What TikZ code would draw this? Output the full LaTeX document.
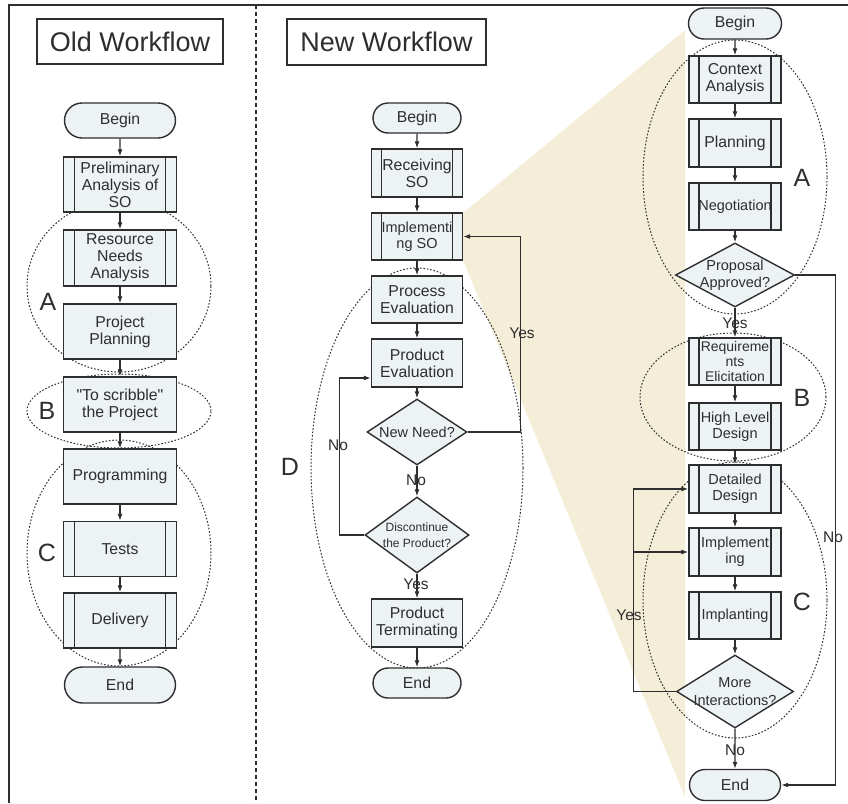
\documentclass[tikz,border=0pt]{standalone}
\usepackage{fontspec}
\setmainfont{Liberation Sans}
\usetikzlibrary{shapes.geometric,shapes.misc,arrows.meta}
\definecolor{boxfill}{HTML}{EDF2F5}
\definecolor{wedge}{HTML}{F4EDD7}
\definecolor{ink}{HTML}{2E2E2E}

\begin{document}
\begin{tikzpicture}[x=1pt,y=-1pt,
  base/.style={draw=ink, line width=1.4pt, fill=boxfill, text=ink, align=center,
    inner sep=1pt, font=\fontsize{15.8}{17}\selectfont},
  term/.style={base, rounded rectangle},
  proc/.style={base, rectangle},
  sub/.style={base, rectangle,
    path picture={\draw[draw=ink, line width=1.4pt]
      ([xshift=#1]path picture bounding box.north west) -- ([xshift=#1]path picture bounding box.south west)
      ([xshift=-#1]path picture bounding box.north east) -- ([xshift=-#1]path picture bounding box.south east);}},
  sub/.default=10pt,
  small/.style={font=\fontsize{14.5}{16}\selectfont},
  dia/.style={base, diamond, inner sep=0pt},
  dlbl/.style={align=center, text=ink, inner sep=0pt, font=\fontsize{14.5}{17.5}\selectfont},
  title/.style={draw=ink, line width=1.3pt, fill=white, text=ink, font=\fontsize{27}{27}\selectfont},
  lbl/.style={text=ink, inner sep=0pt, font=\fontsize{15.5}{17}\selectfont},
  letter/.style={text=ink, inner sep=0pt, font=\fontsize{25}{25}\selectfont},
  arr/.style={draw=ink, line width=1.2pt, -{Latex[length=7pt,width=5pt]}},
  zone/.style={draw=ink, line width=1pt, dash pattern=on 1.6pt off 1.8pt},
]
\useasboundingbox (0,0) rectangle (848,803);

% zoom wedge behind the detailed workflow
\fill[wedge] (463,213) -- (685,30) -- (685,797) -- (463,260) -- cycle;

% page frame and column separator
\draw[ink, line width=1.4pt] (848,5) -- (9,5) -- (9,803);
\draw[ink, line width=1.1pt, dash pattern=on 4pt off 3pt] (256,5) -- (256,803);

% titles
\node[title, minimum width=186pt, minimum height=45pt] (oldT) at (130,41.5) {Old Workflow};
\node[title, minimum width=199pt, minimum height=46pt] (newT) at (386.5,42) {New Workflow};

% phase regions
\draw[zone] (119,286) ellipse [x radius=92pt, y radius=86pt];
\draw[zone] (119,411) ellipse [x radius=92pt, y radius=37pt];
\draw[zone] (119,553) ellipse [x radius=92pt, y radius=113pt];
\draw[zone] (417,468) ellipse [x radius=106pt, y radius=200pt];
\draw[zone] (735,177) ellipse [x radius=92pt, y radius=137pt];
\draw[zone] (733,397) ellipse [x radius=93pt, y radius=64pt];
\draw[zone] (735,600) ellipse [x radius=92pt, y radius=138pt];

\node[letter] (lA) at (48,302) {A};
\node[letter] (lB) at (47,411) {B};
\node[letter] (lC) at (47,553) {C};
\node[letter] (mD) at (290,467) {D};
\node[letter] (rA) at (802,178) {A};
\node[letter] (rB) at (802,398) {B};
\node[letter] (rC) at (802,602) {C};

% old workflow
\begin{scope}[every node/.append style={minimum width=113pt}]
\node[term, minimum height=35pt] (lBegin) at (120,120.5) {Begin};
\node[sub=11pt, minimum height=55pt] (lPre) at (120,184.5) {Preliminary\\Analysis of\\SO};
\node[sub=11pt, minimum height=56pt] (lRes) at (120,258) {Resource\\Needs\\Analysis};
\node[proc, minimum height=55pt] (lPP) at (120,331.5) {Project\\Planning};
\node[proc, minimum height=55pt] (lScr) at (120,404.5) {\textquotedbl To scribble\textquotedbl\\the Project};
\node[proc, minimum height=55pt] (lProg) at (120,476.5) {Programming};
\node[sub=11pt, minimum height=55pt] (lTest) at (120,549) {Tests};
\node[sub=11pt, minimum height=55pt] (lDel) at (120,620.5) {Delivery};
\node[term, minimum height=36pt] (lEnd) at (120,685) {End};
\end{scope}

% new workflow
\begin{scope}[every node/.append style={minimum width=91pt}]
\node[term, minimum width=90pt, minimum height=30pt] (mBegin) at (417,118) {Begin};
\node[sub, minimum height=48pt] (mRec) at (417,173) {Receiving\\SO};
\node[sub, small, minimum height=47pt] (mImp) at (417,236.5) {Implementi\\ng SO};
\node[proc, minimum height=47pt] (mPE) at (417,299.5) {Process\\Evaluation};
\node[proc, minimum height=48pt] (mProdE) at (417,363) {Product\\Evaluation};
\node[dia, minimum width=100pt, minimum height=66pt,
  label={[dlbl]center:New Need?}] (mNN) at (417,432) {};
\node[dia, minimum width=104pt, minimum height=76pt,
  label={[dlbl, font=\fontsize{12}{16}\selectfont]center:Discontinue\\the Product?}] (mDisc) at (417,535) {};
\node[proc, minimum height=48pt] (mTerm) at (417,623) {Product\\Terminating};
\node[term, minimum width=90pt, minimum height=30pt] (mEnd) at (417,683) {End};
\end{scope}

% detailed workflow
\begin{scope}[every node/.append style={minimum width=92pt}]
\node[term, minimum width=95pt, minimum height=31pt] (rBegin) at (735,23.5) {Begin};
\node[sub, minimum height=47pt] (rCA) at (735,79.5) {Context\\Analysis};
\node[sub, minimum height=48pt] (rPlan) at (735,143) {Planning};
\node[sub, small, minimum height=47pt] (rNeg) at (735,206.5) {Negotiation};
\node[dia, minimum width=119pt, minimum height=64pt,
  label={[dlbl]center:Proposal\\Approved?}] (rPA) at (735,275) {};
\node[sub, minimum height=47pt, font=\fontsize{14}{15}\selectfont] (rReq) at (735,361.5) {Requireme\\nts\\Elicitation};
\node[sub, small, minimum height=47pt] (rHLD) at (735,426.5) {High Level\\Design};
\node[sub, small, minimum height=48pt] (rDD) at (735,489) {Detailed\\Design};
\node[sub, small, minimum height=48pt] (rImp) at (735,552) {Implement\\ing};
\node[sub, small, minimum height=47pt] (rImpl) at (735,615.5) {Implanting};
\node[dia, minimum width=117pt, minimum height=73pt,
  label={[dlbl]center:More\\Interactions?}] (rMI) at (735,691.5) {};
\node[term, minimum width=93pt, minimum height=31pt] (rEnd) at (735,785) {End};
\end{scope}

% straight flow
\foreach \a/\b in {lBegin/lPre, lPre/lRes, lRes/lPP, lPP/lScr, lScr/lProg, lProg/lTest, lTest/lDel, lDel/lEnd,
  mBegin/mRec, mRec/mImp, mImp/mPE, mPE/mProdE, mProdE/mNN, mNN/mDisc, mDisc/mTerm, mTerm/mEnd,
  rBegin/rCA, rCA/rPlan, rPlan/rNeg, rNeg/rPA, rPA/rReq, rReq/rHLD, rHLD/rDD, rDD/rImp, rImp/rImpl, rImpl/rMI, rMI/rEnd}
  \draw[arr] (\a) -- (\b);

% loops
\draw[arr] (mNN.east) -- ++(53,0) |- (mImp.east);
\draw[arr] (mDisc.west) -- ++(-25,0) |- ([yshift=-15pt]mProdE.west);
\draw[arr] (rPA.east) -- ++(40,0) |- (rEnd.east);
\draw[arr] (rMI.west) -- ++(-42,0) coordinate (rYb) |- (rDD.west);
\draw[arr] (rYb |- rImp.west) -- (rImp.west);

% branch labels
\node[lbl] (mYes) at (522,333) {Yes};
\node[lbl] (mNo) at (338,445) {No};
\node[lbl] (mNo2) at (416,480) {No};
\node[lbl] (mYes2) at (416,584) {Yes};
\node[lbl] (rYes) at (735,323) {Yes};
\node[lbl] (rNo) at (735,750) {No};
\node[lbl] (rNoR) at (833,537) {No};
\node[lbl] (rYesL) at (629,615) {Yes};
\end{tikzpicture}
\end{document}
